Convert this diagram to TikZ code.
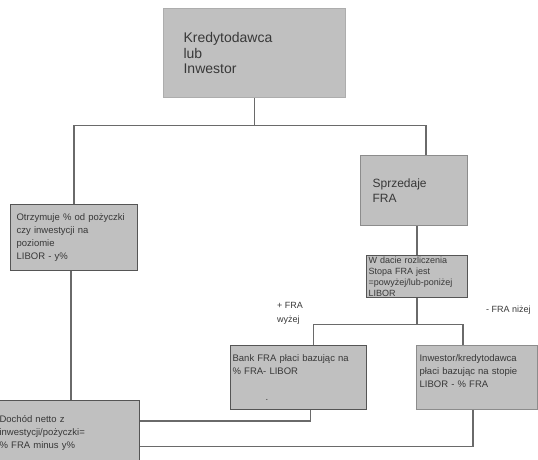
\documentclass[tikz,border=0pt]{standalone}
\usepackage{fontspec}
\setmainfont{Liberation Sans}
\usetikzlibrary{calc}
\definecolor{boxgray}{HTML}{C0C0C0}
\definecolor{edgedark}{HTML}{555555}
\definecolor{edgelight}{HTML}{8C8C8C}
\definecolor{wiregray}{HTML}{6A6A6A}
\definecolor{inkgray}{HTML}{383838}
\begin{document}
\begin{tikzpicture}[x=1pt,y=-1pt,
  box/.style={fill=boxgray, anchor=north west, inner ysep=0pt, align=left, text=inkgray, line width=1.2pt},
  wire/.style={draw=wiregray, line width=1.3pt},
  small/.style={font=\fontsize{9.5}{13}\selectfont}]
\useasboundingbox (0,0) rectangle (538,460);
% the boxes
\node[box, draw=boxgray!90!black, minimum width=182, minimum height=89, text width=142, inner xsep=20,
  font=\fontsize{14}{15.5}\selectfont] (lender) at (163,8) {Kredytodawca\\lub\\Inwestor};
\node[box, small, draw=edgedark, minimum width=127, minimum height=66, text width=115, inner xsep=6] (loan) at (10,204)
  {Otrzymuje \% od pożyczki\\czy inwestycji na\\poziomie\\LIBOR - y\%};
\node[box, draw=edgelight, minimum width=107, minimum height=70, text width=83, inner xsep=12,
  font=\fontsize{12}{15}\selectfont] (sell) at (360,155) {Sprzedaje\\FRA};
\node[box, draw=edgedark, minimum width=101, minimum height=42, text width=97, inner xsep=2,
  font=\fontsize{9}{11}\selectfont] (settle) at (366,255)
  {W dacie rozliczenia\\Stopa FRA jest\\=powyżej/lub-poniżej\\LIBOR};
\node[box, small, draw=edgedark, minimum width=136, minimum height=64, text width=132, inner xsep=2] (bankpay) at (230,345)
  {Bank FRA płaci bazując na\\\% FRA- LIBOR\\\mbox{}\\\hspace*{33pt}.};
\node[box, small, draw=edgelight, minimum width=121, minimum height=64, text width=115, inner xsep=3] (invpay) at (416,345)
  {Inwestor/kredytodawca\\płaci bazując na stopie\\LIBOR - \% FRA\\\mbox{}};
% bottom box runs past the left edge
\node[box, small, draw=edgedark, minimum width=145, minimum height=65, text width=135, inner xsep=5] (income) at (-6,400)
  {Dochód netto z\\inwestycji/pożyczki=\\\% FRA minus y\%};
% labels on the split
\node[text=inkgray, anchor=north west, align=left, inner sep=0pt,
  font=\fontsize{9}{14}\selectfont] (plusfra) at (277,302) {+ FRA\\wyżej};
\node[text=inkgray, anchor=west, inner sep=0pt, font=\fontsize{9}{11}\selectfont] (minusfra) at (486,310) {- FRA niżej};
% connectors
\draw[wire] (lender.south) -- ++(0,27) coordinate (fork);
\draw[wire] (fork) -| (loan.north);
\draw[wire] (fork) -| ([xshift=12pt]sell.north);
\draw[wire] (sell.south -| settle.north) -- (settle.north);
\draw[wire] (settle.south) -- ++(0,26) coordinate (split);
\draw[wire] (split) -| ([xshift=15pt]bankpay.north);
\draw[wire] (split) -| ([xshift=-14pt]invpay.north);
\draw[wire] ([xshift=-3pt]loan.south) -- ([xshift=-3pt]loan.south |- income.north);
\draw[wire] ([yshift=12pt]income.east) -| ([xshift=12pt]bankpay.south);
\draw[wire] ([yshift=-13.5pt]income.east) -| ([xshift=-4pt]invpay.south);
\end{tikzpicture}
\end{document}
